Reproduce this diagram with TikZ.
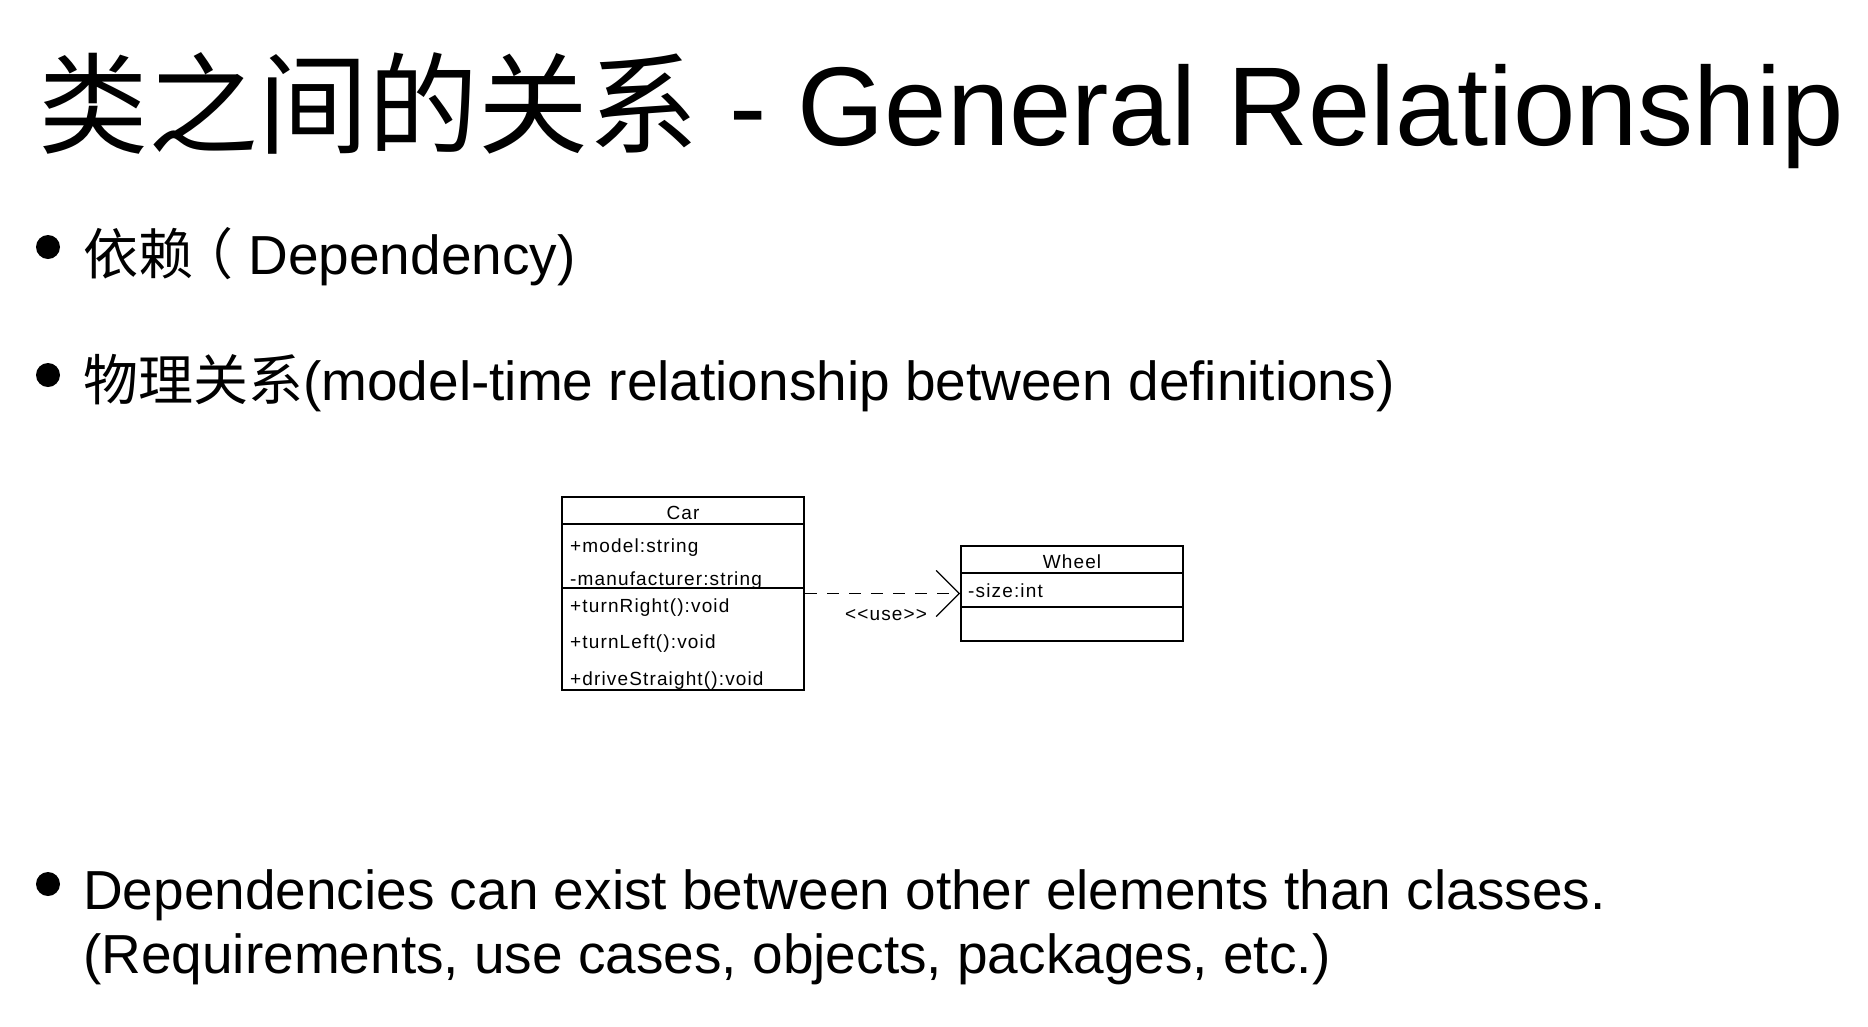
\documentclass[tikz,border=0pt]{standalone}
\usepackage{fontspec}
\setmainfont{Liberation Sans}
\newfontfamily\cjk{Noto Sans CJK SC}
\newfontfamily\umlfont[LetterSpace=6]{Liberation Sans}
\usepackage{tikz}
\usetikzlibrary{arrows.meta}

\begin{document}
\begin{tikzpicture}[x=1pt, y=-1pt,
  bulletdot/.style={circle, fill=black, inner sep=0pt, minimum size=24pt},
  bodytext/.style={anchor=base west, inner sep=0pt, font=\fontsize{55}{64}\selectfont},
  classbox/.style={draw, line width=2pt, inner sep=0pt},
  member/.style={anchor=base west, inner sep=0pt, font=\umlfont\fontsize{19}{24}\selectfont},
  depline/.style={dash pattern=on 12pt off 10pt, line width=1.5pt,
    -{Straight Barb[length=23pt, width=46pt, line width=1.2pt]}}]
\useasboundingbox (0,0) rectangle (1868,1026);
\node[anchor=base west, inner sep=0pt, font=\fontsize{112}{130}\selectfont] (title) at (38,145)
  {{\cjk\fontsize{110}{130}\selectfont 类之间的关系} - General Relationship};

\node[bulletdot] (b1) at (48,247) {};
\node[bodytext] (dep) at (83,274) {{\cjk 依赖\kern-15pt（}\ Dependency)};
\node[bulletdot] (b2) at (48,375) {};
\node[bodytext] (phys) at (83,400) {{\cjk 物理关系}(model-time relationship between definitions)};
\node[bulletdot] (b3) at (48,884) {};
\node[bodytext] (other) at (83,909) {Dependencies can exist between other elements than classes.};
\node[bodytext] (examples) at (83,973) {(Requirements, use cases, objects, packages, etc.)};

\node[classbox, minimum width=242pt, minimum height=193pt] (car) at (683,593.5) {};
\draw[line width=2pt] (car.north west) ++(0,28) -- ++(242,0);
\draw[line width=1.5pt] (car.north west) ++(0,92) -- ++(242,0);
\node[member, anchor=base] (carname) at (683,519) {Car};
\node[member] (model) at (570,552) {+model:string};
\node[member] (manufacturer) at (570,585) {-manufacturer:string};
\node[member] (turnright) at (570,612) {+turnRight():void};
\node[member] (turnleft) at (570,648) {+turnLeft():void};
\node[member] (drive) at (570,685) {+driveStraight():void};

\node[classbox, minimum width=222pt, minimum height=95pt] (wheel) at (1072,593.5) {};
\draw[line width=2pt] (wheel.north west) ++(0,28) -- ++(222,0);
\draw[line width=2pt] (wheel.north west) ++(0,62) -- ++(222,0);
\node[member, anchor=base] (wheelname) at (1072,568) {Wheel};
\node[member] (size) at (968,597) {-size:int};

\draw[depline] (car.east) -- (wheel.west);
\node[member, anchor=base] (use) at (886,620) {<{}<use>{}>};
\end{tikzpicture}
\end{document}
